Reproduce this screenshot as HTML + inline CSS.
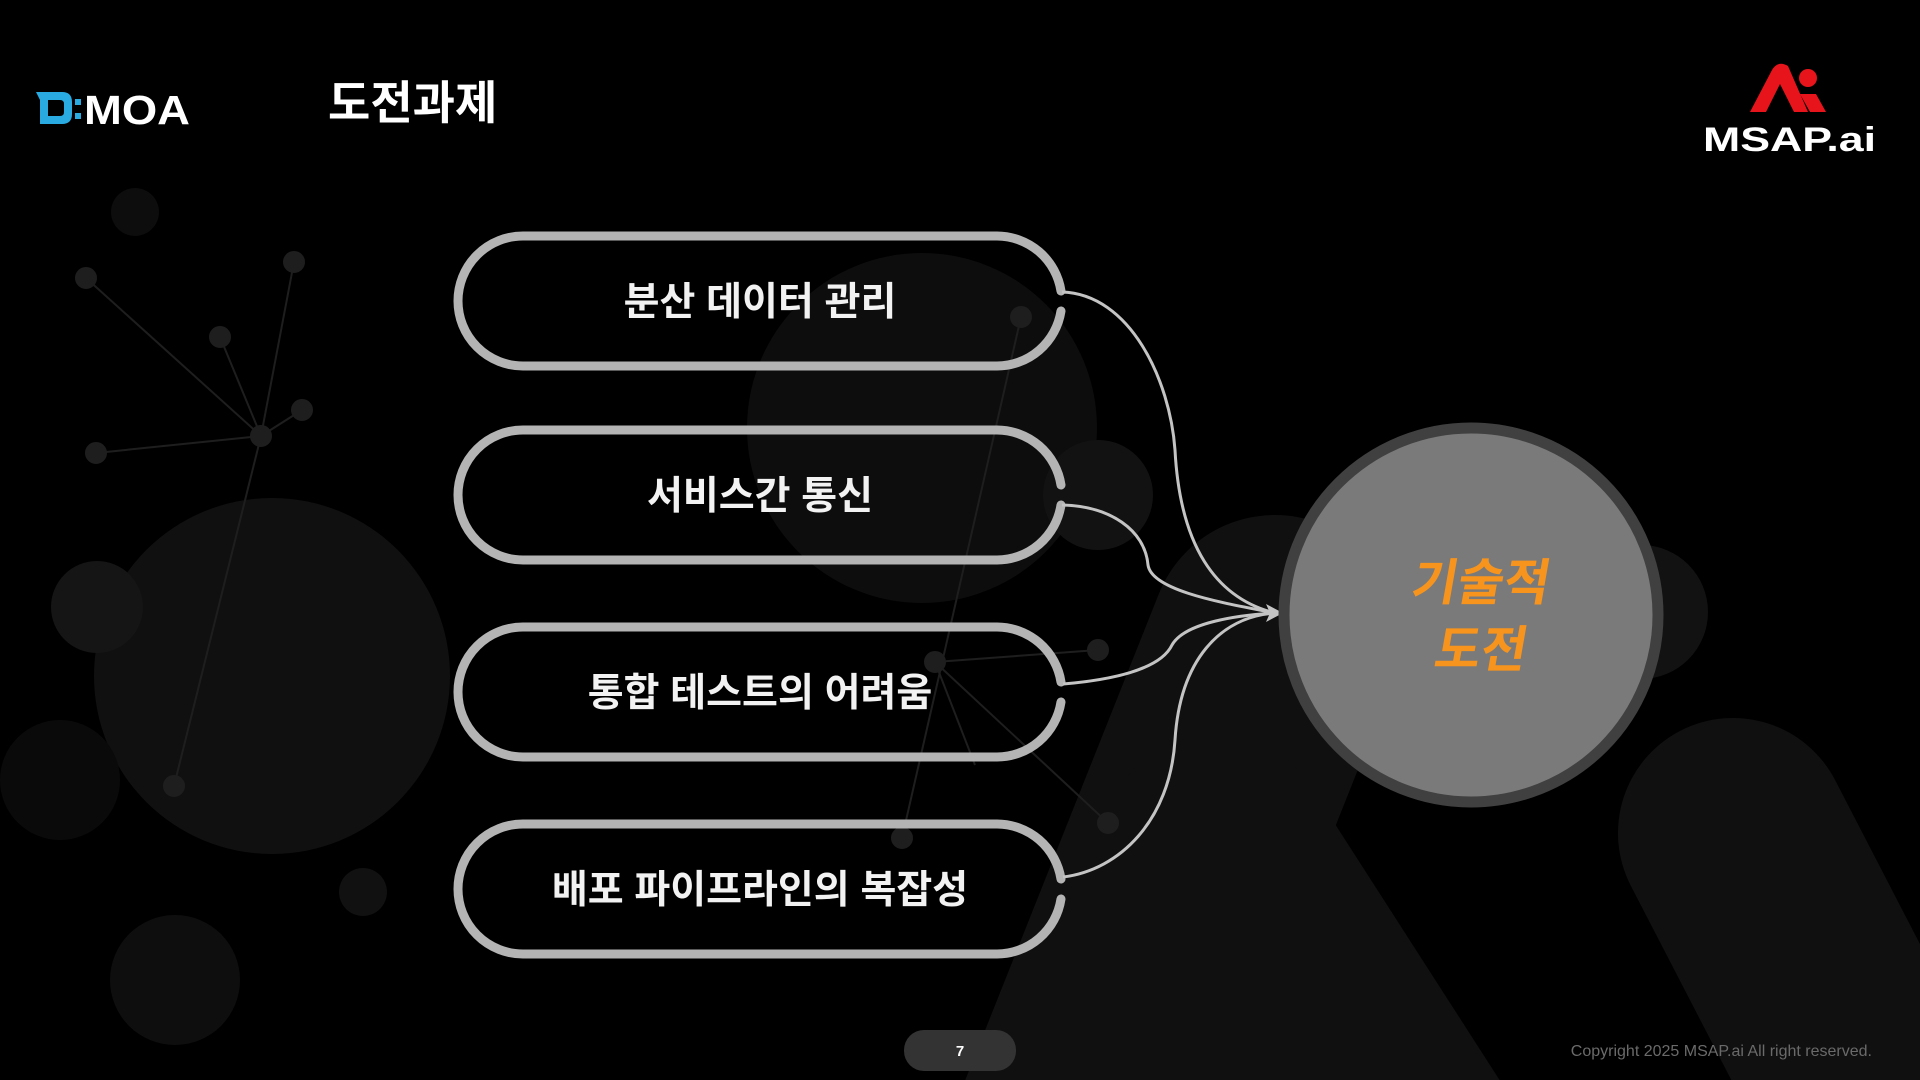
<!DOCTYPE html>
<html><head><meta charset="utf-8">
<style>
html,body{margin:0;padding:0;background:#000;width:1920px;height:1080px;overflow:hidden;}
body{position:relative;font-family:"Liberation Sans","Noto Sans CJK KR",sans-serif;}
svg{position:absolute;left:0;top:0;display:block;}
.t{font-family:"Liberation Sans","Noto Sans CJK KR",sans-serif;font-weight:bold;}
</style></head>
<body>
<svg width="1920" height="1080" viewBox="0 0 1920 1080">
  <!-- background -->
  <g fill="#101010">
    <circle cx="272" cy="676" r="178"/>
    <circle cx="97" cy="607" r="46" fill="#151515"/>
    <circle cx="175" cy="980" r="65" fill="#0e0e0e"/>
    <circle cx="922" cy="428" r="175" fill="#0d0d0d"/>
    <circle cx="1098" cy="495" r="55" fill="#121212"/>
    <circle cx="1641" cy="612" r="67" fill="#121212"/>
    <circle cx="363" cy="892" r="24" fill="#111"/>
    <circle cx="135" cy="212" r="24" fill="#0d0d0d"/>
    <circle cx="60" cy="780" r="60" fill="#0a0a0a"/>
  </g>
  <g stroke="#101010" stroke-linecap="round" fill="none">
    <line x1="1275" y1="640" x2="1060" y2="1180" stroke-width="250"/>
    <line x1="1215" y1="850" x2="1440" y2="1200" stroke-width="230"/>
    <line x1="1733" y1="833" x2="1910" y2="1175" stroke-width="230"/>
  </g>
  <g stroke="#1e1e1e" stroke-width="2" fill="#1e1e1e">
    <line x1="86" y1="278" x2="261" y2="436"/>
    <line x1="294" y1="262" x2="261" y2="436"/>
    <line x1="220" y1="337" x2="261" y2="436"/>
    <line x1="302" y1="410" x2="261" y2="436"/>
    <line x1="96" y1="453" x2="261" y2="436"/>
    <line x1="261" y1="436" x2="174" y2="786"/>
    <line x1="1021" y1="317" x2="902" y2="838"/>
    <line x1="935" y1="662" x2="1108" y2="823"/>
    <line x1="935" y1="662" x2="1098" y2="650"/>
    <line x1="935" y1="662" x2="975" y2="765"/>
    <circle cx="86" cy="278" r="10"/><circle cx="294" cy="262" r="10"/>
    <circle cx="220" cy="337" r="10"/><circle cx="261" cy="436" r="10"/>
    <circle cx="302" cy="410" r="10"/><circle cx="96" cy="453" r="10"/>
    <circle cx="174" cy="786" r="10"/><circle cx="1021" cy="317" r="10"/>
    <circle cx="935" cy="662" r="10"/><circle cx="1108" cy="823" r="10"/>
    <circle cx="1098" cy="650" r="10"/><circle cx="902" cy="838" r="10"/>
  </g>

  <!-- pills -->
  <g fill="none" stroke="#b4b4b4" stroke-width="9" stroke-linecap="round">
    <path d="M1061,291 A65,65 0 0 0 997,236 H523 A65,65 0 0 0 523,366 H997 A65,65 0 0 0 1061,311"/>
    <path d="M1061,485 A65,65 0 0 0 997,430 H523 A65,65 0 0 0 523,560 H997 A65,65 0 0 0 1061,505"/>
    <path d="M1061,682 A65,65 0 0 0 997,627 H523 A65,65 0 0 0 523,757 H997 A65,65 0 0 0 1061,702"/>
    <path d="M1061,879 A65,65 0 0 0 997,824 H523 A65,65 0 0 0 523,954 H997 A65,65 0 0 0 1061,899"/>
  </g>
  <g fill="#f2f2f2" font-size="39" text-anchor="middle" class="t">
    <text x="760" y="315">분산 데이터 관리</text>
    <text x="760" y="509">서비스간 통신</text>
    <text x="760" y="706">통합 테스트의 어려움</text>
    <text x="760" y="903">배포 파이프라인의 복잡성</text>
  </g>

  <!-- connectors -->
  <g fill="none" stroke="#c4c4c4" stroke-width="3">
    <path d="M1062,292 C1130,294 1170,380 1175,450 C1180,545 1215,598 1275,613"/>
    <path d="M1062,505 C1110,506 1145,530 1148,565 C1152,592 1230,604 1275,613"/>
    <path d="M1063,684 C1110,680 1160,670 1172,645 C1185,622 1240,615 1275,613"/>
    <path d="M1063,877 C1120,870 1170,820 1175,740 C1180,660 1220,617 1275,613"/>
  </g>
  <polygon points="1283,613 1266,604 1270,613 1266,622" fill="#c4c4c4"/>

  <!-- circle -->
  <circle cx="1471" cy="615" r="187" fill="#7a7a7a" stroke="#404040" stroke-width="11"/>
  <g fill="#f7941d" font-size="50" text-anchor="middle" class="t">
    <text x="1478" y="600" transform="skewX(-10) translate(106,0)">기술적</text>
    <text x="1478" y="667" transform="skewX(-10) translate(118,0)">도전</text>
  </g>

  <!-- logos -->
  <text x="328" y="119" fill="#fff" font-size="46" class="t">도전과제</text>
  <g>
    <path d="M36,92 H62 Q72,92 72,102 V114 Q72,124 62,124 H40 V116 H60 Q64,116 64,112 V104 Q64,100 60,100 H40 Z" fill="#29abe2"/>
    <rect x="40" y="92" width="8" height="30" fill="#29abe2"/>
    <rect x="75" y="99" width="6" height="6" fill="#29abe2"/>
    <rect x="75" y="113" width="6" height="6" fill="#29abe2"/>
    <text x="84" y="124" fill="#fff" font-size="41" font-family="Liberation Sans, sans-serif" font-weight="bold" textLength="106" lengthAdjust="spacingAndGlyphs">MOA</text>
  </g>
  <g fill="#e8141c">
    <path d="M1750,112 L1772,70 Q1778,60 1788,66 L1808,112 H1794 L1780,84 L1766,112 Z"/>
    <circle cx="1808" cy="78" r="9"/>
    <path d="M1800,94 L1816,94 L1826,112 H1810 Z"/>
  </g>
  <text x="1703" y="151" fill="#fff" font-size="34" font-family="Liberation Sans, sans-serif" font-weight="bold" textLength="173" lengthAdjust="spacingAndGlyphs">MSAP.ai</text>

  <!-- footer -->
  <rect x="904" y="1030" width="112" height="41" rx="20" fill="#333"/>
  <text x="960" y="1056" fill="#fff" font-size="15" text-anchor="middle" class="t">7</text>
  <text x="1872" y="1056" fill="#6a6a6a" font-size="16" text-anchor="end" font-family="Liberation Sans, sans-serif">Copyright 2025 MSAP.ai All right reserved.</text>
</svg>
</body></html>
